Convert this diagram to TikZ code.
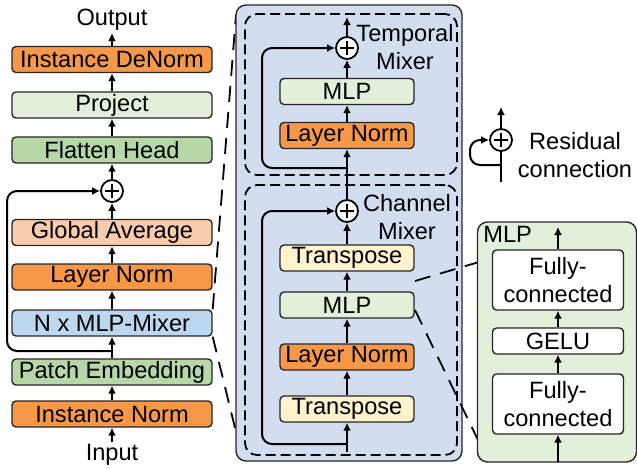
\documentclass[tikz,border=0pt]{standalone}
\usepackage{fontspec}
\setmainfont{Liberation Sans}
\usetikzlibrary{arrows.meta}

\definecolor{normorange}{RGB}{247,152,72}
\definecolor{lightgreen}{RGB}{226,239,218}
\definecolor{midgreen}{RGB}{182,215,168}
\definecolor{peach}{RGB}{248,203,173}
\definecolor{mixblue}{RGB}{189,215,238}
\definecolor{paleyellow}{RGB}{255,242,204}
\definecolor{panelblue}{RGB}{210,222,239}

\begin{document}
\begin{tikzpicture}[
  x=0.5pt, y=-0.5pt,
  font=\fontsize{11.8}{14}\selectfont,
  box/.style={draw=black!85, line width=0.7pt, rounded corners=2pt, align=center, inner sep=0pt, minimum width=100pt, minimum height=13pt},
  sbox/.style={box, minimum width=67pt},
  fcbox/.style={box, fill=white, minimum width=65.5pt},
  txt/.style={inner sep=1pt, align=center},
  adder/.style={circle, draw=black, fill=white, line width=0.9pt, minimum size=11pt, inner sep=0pt,
    path picture={\draw[line width=0.9pt] ([xshift=-3.5pt]path picture bounding box.center) -- ([xshift=3.5pt]path picture bounding box.center);
                  \draw[line width=0.9pt] ([yshift=-3.5pt]path picture bounding box.center) -- ([yshift=3.5pt]path picture bounding box.center);}},
  panel/.style={draw=black!85, line width=0.7pt, rounded corners=5pt},
  dbox/.style={draw=black, line width=0.9pt, dash pattern=on 5pt off 2.5pt, rounded corners=6pt},
  use/.style={-{Latex[length=4pt,width=4pt]}, line width=1pt},
  res/.style={use, rounded corners=5pt},
  zoomline/.style={draw=black, line width=0.9pt, dash pattern=on 8pt off 5pt}
]
\useasboundingbox (0,0) rectangle (637,468);

% left column: overall model
\node[txt] (out) at (112,20) {Output};
\node[box, fill=normorange] (denorm) at (112,59.5) {Instance DeNorm};
\node[box, fill=lightgreen] (proj) at (112,105) {Project};
\node[box, fill=midgreen] (flat) at (112,150) {Flatten Head};
\node[adder] (add) at (112,191) {};
\node[box, fill=peach] (gavg) at (112,232.5) {Global Average};
\node[box, fill=normorange] (lnorm) at (112,277) {Layer Norm};
\node[box, fill=mixblue] (mixer) at (112,323) {N x MLP-Mixer};
\node[box, fill=midgreen] (patch) at (112,372) {Patch Embedding};
\node[box, fill=normorange] (inorm) at (112,414) {Instance Norm};
\node[txt] (in) at (112,455) {Input};
\coordinate (skip) at (112,351);

\draw[use] (in) -- (inorm);
\draw[use] (inorm) -- (patch);
\draw[use] (patch) -- (mixer);
\draw[use] (mixer) -- (lnorm);
\draw[use] (lnorm) -- (gavg);
\draw[use] (gavg) -- (add);
\draw[use] (add) -- (flat);
\draw[use] (flat) -- (proj);
\draw[use] (proj) -- (denorm);
\draw[use] (denorm) -- (out);
\draw[res] (skip) -- (7,351) -- (7,191) -- (add.west);

% zoom lines to the mixer block
\coordinate (zt) at (236,15);
\coordinate (zb) at (236,432);
\draw[zoomline] (mixer.north east) -- (zt);
\draw[zoomline] (mixer.south east) -- (zb);

% mixer block
\node[panel, fill=panelblue, minimum width=113pt, minimum height=228pt] (mixblk) at (349,233) {};
\node[dbox, minimum width=106pt, minimum height=80.5pt] (tmix) at (351,94.5) {};
\node[dbox, minimum width=106pt, minimum height=135pt] (cmix) at (351,320) {};

% temporal mixer
\node[adder] (tadd) at (347,48) {};
\node[sbox, fill=lightgreen] (tmlp) at (347,91.5) {MLP};
\node[sbox, fill=normorange] (tln) at (347,135.5) {Layer Norm};
\node[txt] (tlbl) at (405,47) {Temporal\\Mixer};
\coordinate (tout) at (347,17);
\coordinate (tskip) at (347,168);

% channel mixer
\node[adder] (cadd) at (347,211) {};
\node[txt] (clbl) at (407,217) {Channel\\Mixer};
\node[sbox, fill=paleyellow] (ctr2) at (347,258) {Transpose};
\node[sbox, fill=lightgreen] (cmlp) at (347,305) {MLP};
\node[sbox, fill=normorange] (cln) at (347,357) {Layer Norm};
\node[sbox, fill=paleyellow] (ctr1) at (347,409) {Transpose};
\coordinate (cin) at (347,452);
\coordinate (cskip) at (347,444);

\draw[use] (cin) -- (ctr1);
\draw[use] (ctr1) -- (cln);
\draw[use] (cln) -- (cmlp);
\draw[use] (cmlp) -- (ctr2);
\draw[use] (ctr2) -- (cadd);
\draw[res] (cskip) -- (262,444) -- (262,211) -- (cadd.west);
\draw[use] (cadd) -- (tln);
\draw[use] (tln) -- (tmlp);
\draw[use] (tmlp) -- (tadd);
\draw[use] (tadd) -- (tout);
\draw[res] (tskip) -- (262,168) -- (262,48) -- (tadd.west);

% zoom lines to the MLP block
\coordinate (m1) at (415,281);
\coordinate (m2) at (479,262);
\coordinate (m3) at (415,310);
\coordinate (m4) at (478,440);
\draw[zoomline] (m1) -- (m2);
\draw[zoomline] (m3) -- (m4);

% MLP block
\node[panel, fill=lightgreen, minimum width=79.5pt, minimum height=120pt] (mlpblk) at (557,342) {};
\node[txt, anchor=north west] (mlbl) at (481,224) {MLP};
\node[fcbox, minimum height=30pt] (fc2) at (558,280) {Fully-\\connected};
\node[fcbox] (gelu) at (558,341) {GELU};
\node[fcbox, minimum height=30pt] (fc1) at (558,404) {Fully-\\connected};
\coordinate (min) at (558,462);
\coordinate (mout) at (558,227);
\draw[use] (min) -- (fc1);
\draw[use] (fc1) -- (gelu);
\draw[use] (gelu) -- (fc2);
\draw[use] (fc2) -- (mout);

% legend
\node[adder] (radd) at (501,140) {};
\coordinate (rtop) at (501,107);
\coordinate (rbot) at (501,182);
\coordinate (rskip) at (501,165);
\draw[use] (radd) -- (rtop);
\draw[line width=1pt] (rbot) -- (radd);
\draw[res] (rskip) -- (470,165) -- (470,140) -- (radd.west);
\node[txt] (rlbl) at (575,155) {Residual\\connection};
\end{tikzpicture}
\end{document}
